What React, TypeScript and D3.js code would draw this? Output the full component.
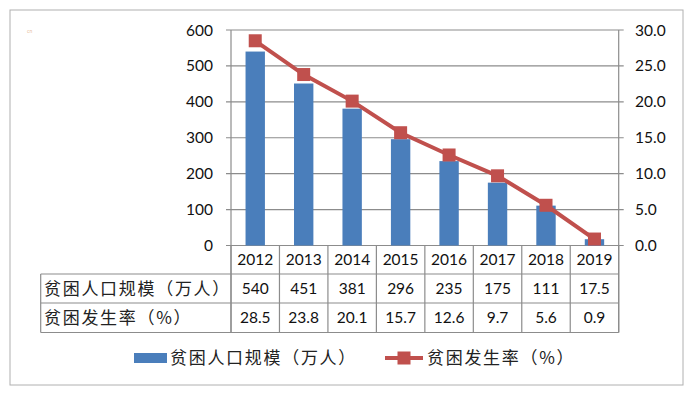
import * as d3 from "d3";

const years = ["2012", "2013", "2014", "2015", "2016", "2017", "2018", "2019"];
const population = [540, 451, 381, 296, 235, 175, 111, 17.5];
const populationLabels = ["540", "451", "381", "296", "235", "175", "111", "17.5"];
const rate = [28.5, 23.8, 20.1, 15.7, 12.6, 9.7, 5.6, 0.9];
const rateLabels = ["28.5", "23.8", "20.1", "15.7", "12.6", "9.7", "5.6", "0.9"];
const leftTicks = [0, 100, 200, 300, 400, 500, 600];
const rightTicks = [0, 5, 10, 15, 20, 25, 30];
const popName = "贫困人口规模（万人）";
const rateName = "贫困发生率（%）";

const W = 698;
const H = 403;
const plotLeft = 231;
const plotRight = 618.7;
const plotTop = 30;
const plotBottom = 245.5;
const tableLeft = 40.7;
const rowLines = [274, 303, 332.5];

const barColor = "#4A7EBB";
const lineColor = "#C0504D";
const numFont = "Lato, 'Open Sans', sans-serif";
const cjkFont = "'Noto Sans CJK SC', sans-serif";
const cjkSize = 17;
const cjkSpacing = 1.7;

export default function App() {
  const x = d3.scaleBand().domain(years).range([plotLeft, plotRight]);
  const yL = d3.scaleLinear().domain([0, 600]).range([plotBottom, plotTop]);
  const yR = d3.scaleLinear().domain([0, 30]).range([plotBottom, plotTop]);
  const bw = x.bandwidth();
  const barW = bw * 0.4;

  const line = d3
    .line<number>()
    .x((d, i) => x(years[i])! + bw / 2)
    .y((d) => yR(d));

  const edges = years.map((y) => x(y)!).concat([plotRight]);
  const m = 13;

  return (
    <svg width={W} height={H} style={{ position: "absolute", left: 0, top: 0, background: "#fff" }}>
      <rect x={10} y={10} width={673} height={375} fill="#fff" stroke="#b0b0b0" strokeWidth={1} />
      <text x={27} y={33} fontSize={5} fill="#e8c0a0" fontFamily={numFont}>cn</text>

      {/* gridlines */}
      {leftTicks.map((t) => (
        <line key={"g" + t} x1={plotLeft - 5} x2={plotRight + 5} y1={yL(t)} y2={yL(t)} stroke="#8c8c8c" strokeWidth={1.2} />
      ))}
      <line x1={plotLeft} x2={plotLeft} y1={plotTop} y2={rowLines[2]} stroke="#8c8c8c" strokeWidth={1.2} />
      <line x1={plotRight} x2={plotRight} y1={plotTop} y2={rowLines[2]} stroke="#8c8c8c" strokeWidth={1.2} />

      {/* axis labels */}
      {leftTicks.map((t) => (
        <text key={"l" + t} x={213} y={yL(t)} dy="0.36em" textAnchor="end" fontSize={15.5} fontFamily={numFont} fill="#111">
          {t}
        </text>
      ))}
      {rightTicks.map((t) => (
        <text key={"r" + t} x={635} y={yR(t)} dy="0.36em" textAnchor="start" fontSize={15.5} fontFamily={numFont} fill="#111">
          {t.toFixed(1)}
        </text>
      ))}

      {/* bars */}
      {population.map((v, i) => (
        <rect key={"b" + i} x={x(years[i])! + (bw - barW) / 2} y={yL(v)} width={barW} height={plotBottom - yL(v)} fill={barColor} />
      ))}

      {/* line */}
      <path d={line(rate) || ""} fill="none" stroke={lineColor} strokeWidth={4} />
      {rate.map((v, i) => (
        <rect key={"m" + i} x={x(years[i])! + bw / 2 - m / 2} y={yR(v) - m / 2} width={m} height={m} fill={lineColor} />
      ))}

      {/* table */}
      {rowLines.map((y) => (
        <line key={"h" + y} x1={tableLeft} x2={plotRight} y1={y} y2={y} stroke="#8c8c8c" strokeWidth={1.2} />
      ))}
      <line x1={tableLeft} x2={tableLeft} y1={rowLines[0]} y2={rowLines[2]} stroke="#8c8c8c" strokeWidth={1.2} />
      {edges.map((e, i) => (
        <line key={"v" + i} x1={e} x2={e} y1={plotBottom} y2={rowLines[2]} stroke="#8c8c8c" strokeWidth={1.2} />
      ))}
      {years.map((y, i) => (
        <g key={"t" + y} fontFamily={numFont} fontSize={15.5} fill="#111" textAnchor="middle">
          <text x={x(y)! + bw / 2} y={(plotBottom + rowLines[0]) / 2} dy="0.36em">{y}</text>
          <text x={x(y)! + bw / 2} y={(rowLines[0] + rowLines[1]) / 2} dy="0.36em">{populationLabels[i]}</text>
          <text x={x(y)! + bw / 2} y={(rowLines[1] + rowLines[2]) / 2} dy="0.36em">{rateLabels[i]}</text>
        </g>
      ))}
      <text x={44} y={(rowLines[0] + rowLines[1]) / 2} dy="0.36em" fontSize={cjkSize} letterSpacing={cjkSpacing} fontFamily={cjkFont} fill="#222">
        {popName}
      </text>
      <text x={44} y={(rowLines[1] + rowLines[2]) / 2} dy="0.36em" fontSize={cjkSize} letterSpacing={cjkSpacing} fontFamily={cjkFont} fill="#222">
        {rateName}
      </text>

      {/* legend */}
      <rect x={134} y={353} width={33} height={10} fill={barColor} />
      <text x={170} y={358} dy="0.36em" fontSize={cjkSize} letterSpacing={cjkSpacing} fontFamily={cjkFont} fill="#222">
        {popName}
      </text>
      <line x1={385} x2={423} y1={358} y2={358} stroke={lineColor} strokeWidth={4} />
      <rect x={404 - 6.5} y={358 - 6.5} width={13} height={13} fill={lineColor} />
      <text x={427} y={358} dy="0.36em" fontSize={cjkSize} letterSpacing={cjkSpacing} fontFamily={cjkFont} fill="#222">
        {rateName}
      </text>
    </svg>
  );
}
